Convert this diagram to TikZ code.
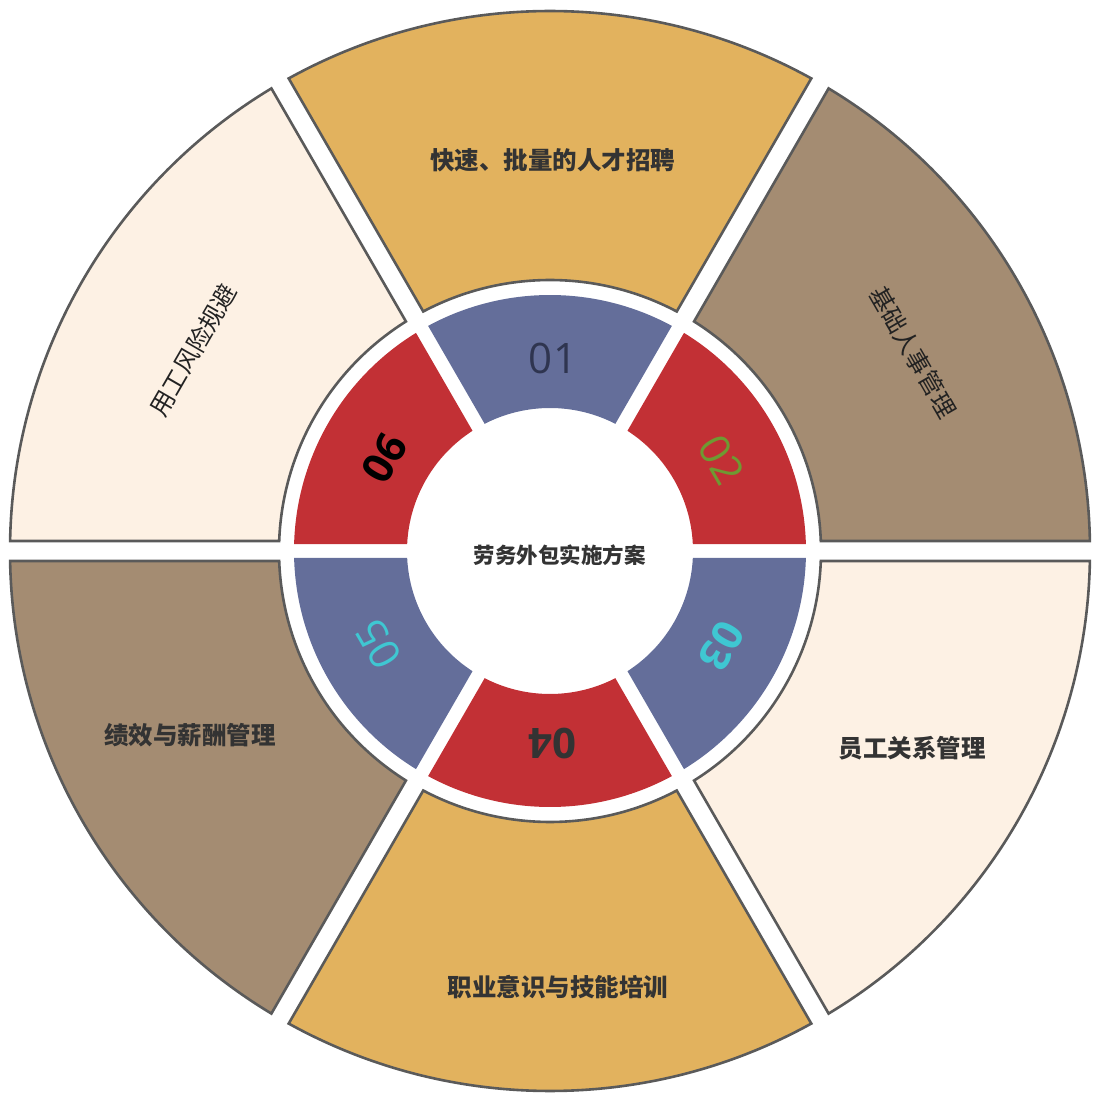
\documentclass[tikz,border=0pt]{standalone}
\usepackage{fontspec}
\setmainfont{Open Sans}
\newfontfamily\cjk{Noto Sans CJK SC}
\definecolor{cyellow}{HTML}{E2B25E}
\definecolor{cbrown}{HTML}{A48C72}
\definecolor{ccream}{HTML}{FDF1E4}
\definecolor{cblue}{HTML}{646E9A}
\definecolor{cred}{HTML}{C23035}
\definecolor{cline}{HTML}{5A5A5A}
\definecolor{ctext}{HTML}{333333}
\definecolor{cdark}{HTML}{222222}
\definecolor{cnavy}{HTML}{2F3550}
\definecolor{cgreen}{HTML}{6E9A32}
\definecolor{ccyan}{HTML}{3FC7D2}
\tikzset{
  outsector/.style={draw=cline, line width=2.6pt, line join=miter},
  insector/.style={draw=none},
  lbl/.style={font=\cjk\bfseries\fontsize{24.5}{28}\selectfont, text=ctext},
  lblthin/.style={font=\cjk\fontsize{24.5}{28}\selectfont, text=cdark},
  numlbl/.style={font=\fontsize{42}{44}\selectfont},
  numbold/.style={font=\bfseries\fontsize{42}{44}\selectfont}
}
\begin{document}
\begin{tikzpicture}[x=1pt,y=1pt]
\useasboundingbox (-550,-546) rectangle (542,551);
% outer ring
\def\Ro{540}\def\ro{271}\def\go{10}
\pgfmathsetmacro\dO{asin(\go/\Ro)}
\pgfmathsetmacro\dI{asin(\go/\ro)}
\foreach \a/\col in {60/cyellow, 0/cbrown, -60/ccream, -120/cyellow, 180/cbrown, 120/ccream}{
  \pgfmathsetmacro\sA{\a+\dO}
  \pgfmathsetmacro\eA{\a+60-\dO}
  \pgfmathsetmacro\sB{\a+60-\dI}
  \pgfmathsetmacro\eB{\a+\dI}
  \path[outsector, fill=\col] (\sA:\Ro) arc[start angle=\sA, end angle=\eA, radius=\Ro]
    -- (\sB:\ro) arc[start angle=\sB, end angle=\eB, radius=\ro] -- cycle;
}
% inner ring
\def\Ri{256}\def\ri{143}\def\gi{7}
\pgfmathsetmacro\eO{asin(\gi/\Ri)}
\pgfmathsetmacro\eI{asin(\gi/\ri)}
\foreach \a/\col in {60/cblue, 0/cred, -60/cblue, -120/cred, 180/cblue, 120/cred}{
  \pgfmathsetmacro\sA{\a+\eO}
  \pgfmathsetmacro\eA{\a+60-\eO}
  \pgfmathsetmacro\sB{\a+60-\eI}
  \pgfmathsetmacro\eB{\a+\eI}
  \path[insector, fill=\col] (\sA:\Ri) arc[start angle=\sA, end angle=\eA, radius=\Ri]
    -- (\sB:\ri) arc[start angle=\sB, end angle=\eB, radius=\ri] -- cycle;
}
% outer labels
\node[lbl] (t1) at (3,391) {快速、批量的人才招聘};
\node[lblthin, rotate=-60] (t2) at (363,199) {基础人事管理};
\node[lbl] (t3) at (362,-197) {员工关系管理};
\node[lbl] (t4) at (8,-436) {职业意识与技能培训};
\node[lbl] (t5) at (-360,-184) {绩效与薪酬管理};
\node[lblthin, rotate=60] (t6) at (-357,201) {用工风险规避};
% numbers
\node[numlbl, text=cnavy] (n1) at (3,193) {01};
\node[numlbl, text=cgreen, rotate=-60] (n2) at (172,91) {02};
\node[numbold, text=ccyan, rotate=-120] (n3) at (172,-95) {03};
\node[numbold, text=ctext, rotate=180] (n4) at (3,-193) {04};
\node[numlbl, text=ccyan, rotate=120] (n5) at (-172,-93) {05};
\node[numbold, text=black, rotate=60] (n6) at (-166,93) {06};
% centre
\node[font=\cjk\bfseries\fontsize{21.5}{24}\selectfont, text=ctext] (c) at (10,-4) {劳务外包实施方案};
\end{tikzpicture}
\end{document}
